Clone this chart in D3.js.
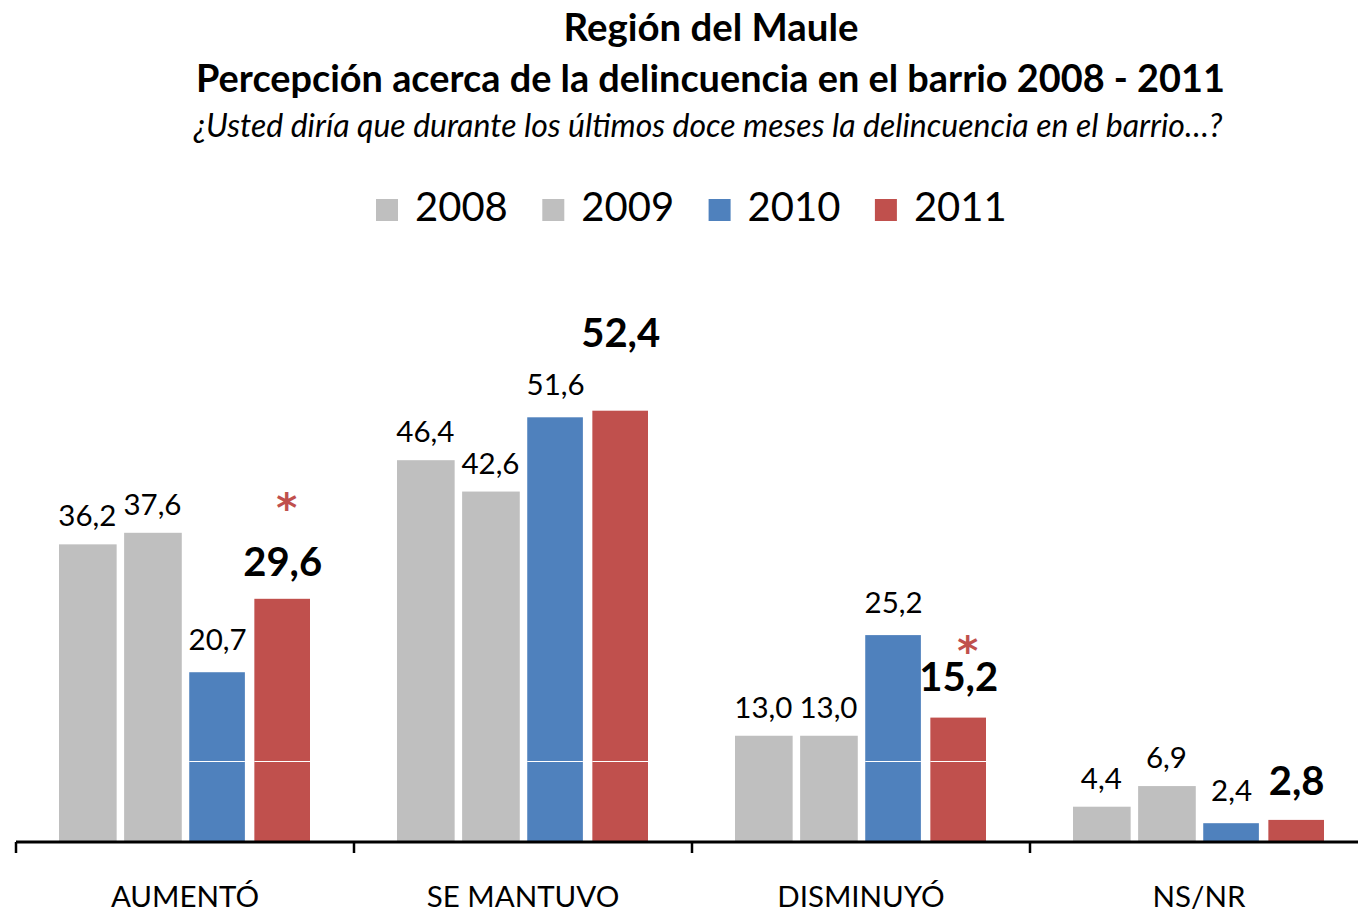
<!DOCTYPE html>
<html>
<head>
<meta charset="utf-8">
<script src="https://cdn.jsdelivr.net/npm/d3@7"></script>
<style>
  body { margin: 0; background: #fff; }
  svg { display: block; font-family: Lato, "Open Sans", sans-serif; }
</style>
</head>
<body>
<div id="chart"></div>
<script>
// data
const categories = ['AUMENTÓ', 'SE MANTUVO', 'DISMINUYÓ', 'NS/NR'];
const years = ['2008', '2009', '2010', '2011'];
const values2008 = [36.2, 46.4, 13.0, 4.4];
const values2009 = [37.6, 42.6, 13.0, 6.9];
const values2010 = [20.7, 51.6, 25.2, 2.4];
const values2011 = [29.6, 52.4, 15.2, 2.8];
const significant2011 = ['AUMENTÓ', 'DISMINUYÓ'];

const seriesValues = { 2008: values2008, 2009: values2009, 2010: values2010, 2011: values2011 };
const colors = { 2008: '#BFBFBF', 2009: '#BFBFBF', 2010: '#4F81BD', 2011: '#C0504D' };

const WIDTH = 1358;
const HEIGHT = 912;

// layout tweaks (label lift above bar top, per series / per category for 2011)
const LIFT = { 2008: 18, 2009: 18, 2010: 22 };
const LIFT_2011 = [23, 64, 27, 25];
const STAR_NUDGE = { 'AUMENTÓ': [4, -98], 'DISMINUYÓ': [9, -74] };

const svg = d3.select('#chart').append('svg').attr('width', WIDTH).attr('height', HEIGHT);

// shrink/grow font so the text spans a given width
function fitWidth(sel, target) {
  const size = parseFloat(sel.attr('font-size'));
  const len = sel.node().getComputedTextLength();
  sel.attr('font-size', (size * target) / len);
}

// titles
const t1 = svg.append('text').attr('x', 711).attr('y', 41).attr('text-anchor', 'middle')
  .attr('font-size', 34).attr('font-weight', 'bold').text('Región del Maule');
fitWidth(t1, 295);
const t2 = svg.append('text').attr('x', 710.5).attr('y', 92).attr('text-anchor', 'middle')
  .attr('font-size', 34).attr('font-weight', 'bold').text('Percepción acerca de la delincuencia en el barrio 2008 - 2011');
fitWidth(t2, 1029);
const t3 = svg.append('text').attr('x', 708).attr('y', 137).attr('text-anchor', 'middle')
  .attr('font-size', 28).attr('font-style', 'italic').text('¿Usted diría que durante los últimos doce meses la delincuencia en el barrio…?');
fitWidth(t3, 1029);

// legend
const legend = svg.append('g').attr('class', 'legend').attr('transform', 'translate(376,0)');
const legendItem = legend.selectAll('g').data(years).enter().append('g')
  .attr('transform', (d, i) => `translate(${i * 166.3},0)`);
legendItem.append('rect').attr('x', 0).attr('y', 199).attr('width', 22).attr('height', 22)
  .attr('fill', (d) => colors[d]);
legendItem.append('text').attr('x', 39).attr('y', 220.5).attr('font-size', 40).text((d) => d);

// scales
const x0 = d3.scaleBand().domain(categories).range([16, 1368]).padding(0);
const x1 = d3.scaleBand().domain(years)
  .range([x0.bandwidth() / 2 - 126, x0.bandwidth() / 2 + 126]).paddingInner(0.13);
const y = d3.scaleLinear().domain([0, 60]).range([843, 843 - 60 * 8.25]);

// bars
const groups = svg.append('g').attr('class', 'bars').selectAll('g').data(categories).enter().append('g')
  .attr('transform', (d) => `translate(${x0(d)},0)`);

const cells = groups.selectAll('g.cell')
  .data((c, ci) => years.map((yr) => ({ cat: c, ci, year: yr, value: seriesValues[yr][ci] })))
  .enter().append('g').attr('class', 'cell');

cells.append('rect')
  .attr('x', (d) => x1(d.year))
  .attr('y', (d) => y(d.value))
  .attr('width', (d) => (d.year === '2008' || d.year === '2009' ? x1.bandwidth() + 1 : x1.bandwidth() - 1))
  .attr('height', (d) => y(0) - y(d.value))
  .attr('fill', (d) => colors[d.year]);

// white gridline at 10 shows through the 2010/2011 bars only
cells.filter((d) => (d.year === '2010' || d.year === '2011') && d.value > 10)
  .append('line')
  .attr('x1', (d) => x1(d.year))
  .attr('x2', (d) => x1(d.year) + x1.bandwidth() - 1)
  .attr('y1', Math.round(y(10)) + 0.5)
  .attr('y2', Math.round(y(10)) + 0.5)
  .attr('stroke', '#fff')
  .attr('stroke-width', 1);

// value labels
const fmt = (v) => v.toFixed(1).replace('.', ',');
cells.append('text')
  .attr('x', (d) => x1(d.year) + x1.bandwidth() / 2)
  .attr('y', (d) => y(d.value) - (d.year === '2011' ? LIFT_2011[d.ci] : LIFT[d.year]))
  .attr('text-anchor', 'middle')
  .attr('font-size', (d) => (d.year === '2011' ? 40 : 29.5))
  .attr('font-weight', (d) => (d.year === '2011' ? 'bold' : 'normal'))
  .text((d) => fmt(d.value));

// significance marks (DejaVu's asterisk is big for its em, keeps the box small)
cells.filter((d) => d.year === '2011' && significant2011.includes(d.cat))
  .append('text')
  .attr('x', (d) => x1(d.year) + x1.bandwidth() / 2 + STAR_NUDGE[d.cat][0])
  .attr('y', (d) => y(d.value) + STAR_NUDGE[d.cat][1] + 21)
  .attr('text-anchor', 'middle')
  .attr('font-family', '"DejaVu Sans", sans-serif')
  .attr('font-weight', 'bold')
  .attr('font-size', 40)
  .attr('fill', '#C0504D')
  .text('*');

// axis
const axis = svg.append('g').attr('class', 'x-axis');
axis.append('line').attr('x1', 16).attr('x2', WIDTH).attr('y1', 842).attr('y2', 842)
  .attr('stroke', '#000').attr('stroke-width', 3);
axis.selectAll('line.tick').data(categories).enter().append('line')
  .attr('class', 'tick')
  .attr('x1', (d) => x0(d)).attr('x2', (d) => x0(d))
  .attr('y1', 842).attr('y2', 853)
  .attr('stroke', '#000').attr('stroke-width', 2.5);
axis.selectAll('text').data(categories).enter().append('text')
  .attr('x', (d) => x0(d) + x0.bandwidth() / 2)
  .attr('y', 907)
  .attr('text-anchor', 'middle')
  .attr('font-size', 29.5)
  .text((d) => d);
</script>
</body>
</html>
